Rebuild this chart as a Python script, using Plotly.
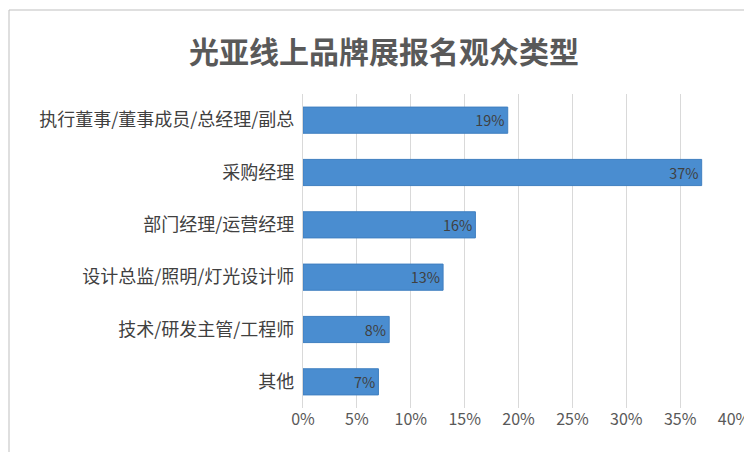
import plotly.graph_objects as go

categories = ["执行董事/董事成员/总经理/副总", "采购经理", "部门经理/运营经理", "设计总监/照明/灯光设计师", "技术/研发主管/工程师", "其他"]
values = [0.19, 0.37, 0.16, 0.13, 0.08, 0.07]
tick_vals = [0, 0.05, 0.10, 0.15, 0.20, 0.25, 0.30, 0.35, 0.40]
tick_text = ["0%", "5%", "10%", "15%", "20%", "25%", "30%", "35%", "40%"]

font = "Noto Sans CJK SC"
fig = go.Figure(go.Bar(
    y=categories, x=values, orientation="h",
    marker=dict(color="#4A8DD0", line=dict(color="#3F7FC0", width=1)),
    text=[f"{round(v*100)}%" for v in values], textposition="inside",
    insidetextanchor="end", textfont=dict(color="#404040", size=15, family=font),
))
fig.update_layout(
    width=752, height=452, paper_bgcolor="white", plot_bgcolor="white",
    margin=dict(l=295, r=26, t=86, b=52, autoexpand=False),
    title=dict(text="<b>光亚线上品牌展报名观众类型</b>", x=0.5, xanchor="center", y=0.925,
               font=dict(size=30, color="#595959", family=font)),
    bargap=0.5, showlegend=False,
    xaxis=dict(range=[0, 0.40], tickvals=tick_vals, ticktext=tick_text, showgrid=True, automargin=False,
               gridcolor="#D9D9D9", zeroline=False, tickfont=dict(size=16, color="#595959", family=font)),
    yaxis=dict(autorange="reversed", showline=True, linecolor="#D9D9D9", ticks="", automargin=False,
               ticksuffix=" ", tickfont=dict(size=18, color="#404040", family=font)),
    shapes=[dict(type="rect", xref="paper", yref="paper", x0=-294/431, x1=1+24/431,
                 y0=-50/314, y1=1+84/314, line=dict(color="#BFBFBF", width=1))],
)
fig.write_html("out.html")
